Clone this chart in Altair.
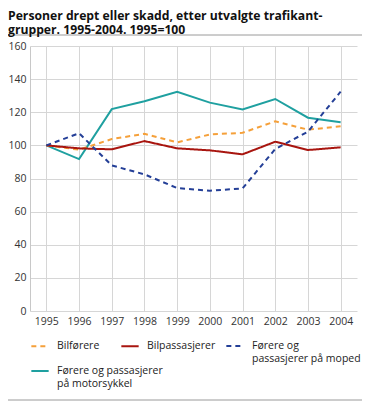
import altair as alt
import pandas as pd

years = ["1995", "1996", "1997", "1998", "1999", "2000", "2001", "2002", "2003", "2004"]
bilforere = [100, 97.4, 103.8, 107.0, 101.8, 106.6, 107.6, 114.5, 109.5, 111.5]
bilpassasjerer = [100, 98.2, 97.6, 102.6, 98.2, 97.0, 94.6, 102.2, 97.2, 98.8]
moped = [100, 107.3, 87.9, 82.5, 74.2, 72.6, 74.0, 97.8, 108.3, 132.4]
motorsykkel = [100, 91.7, 121.9, 126.6, 132.4, 125.8, 121.7, 128.0, 116.7, 113.9]

car_names = ["Bilførere", "Bilpassasjerer"]
car_values = [bilforere, bilpassasjerer]
car_colors = ["#f5a03a", "#a8150f"]
car_dashes = [[5, 4], [1, 0]]

moped_names = ["Førere og passasjerer på moped"]
moped_values = [moped]
moped_colors = ["#243f97"]
moped_dashes = [[5, 4]]

mc_names = ["Førere og passasjerer på motorsykkel"]
mc_values = [motorsykkel]
mc_colors = ["#1fa0a0"]


def long_table(names, values):
    rows = []
    for name, vals in zip(names, values):
        for y, v in zip(years, vals):
            rows.append({"year": y, "value": v, "serie": name})
    return pd.DataFrame(rows)


FONT = "Open Sans"

label_expr = (
    "datum.label == 'Førere og passasjerer på moped' ? ['Førere og', 'passasjerer på moped'] : "
    "datum.label == 'Førere og passasjerer på motorsykkel' ? ['Førere og passasjerer', 'på motorsykkel'] : "
    "datum.label"
)

x_enc = alt.X("year:O", scale=alt.Scale(type="point", padding=0.5),
              axis=alt.Axis(title=None, labelAngle=0, grid=True, ticks=False, domain=False,
                            labelPadding=5))
y_enc = alt.Y("value:Q", scale=alt.Scale(domain=[0, 160]),
              axis=alt.Axis(title=None, values=list(range(0, 161, 20)), grid=True, ticks=False,
                            domain=True, labelPadding=4))


def legend(lx, ly):
    return alt.Legend(title=None, orient="none", legendX=lx, legendY=ly,
                      direction="horizontal", columnPadding=17, symbolType="stroke",
                      symbolStrokeWidth=2, symbolSize=300, labelOffset=7, labelFont=FONT,
                      labelFontSize=10.5, labelColor="#222", labelLimit=0,
                      labelExpr=label_expr)


def series_layer(names, values, colors, dashes, lx, ly):
    enc = dict(
        x=x_enc, y=y_enc,
        color=alt.Color("serie:N", sort=names, scale=alt.Scale(domain=names, range=colors),
                        legend=legend(lx, ly)),
    )
    if dashes is not None:
        enc["strokeDash"] = alt.StrokeDash("serie:N", sort=names,
                                           scale=alt.Scale(domain=names, range=dashes),
                                           legend=None)
    return alt.Chart(long_table(names, values)).mark_line(strokeWidth=2, clip=False).encode(**enc)


mc_layer = series_layer(mc_names, mc_values, mc_colors, None, 0, 315)
car_layer = series_layer(car_names, car_values, car_colors, car_dashes, 0, 290)
moped_layer = series_layer(moped_names, moped_values, moped_colors, moped_dashes, 195, 290)

deco = pd.DataFrame({"k": [0]})
top_rule = alt.Chart(deco).mark_rule(color="#9a9a9a", strokeWidth=1).encode(
    x=alt.value(-22), x2=alt.value(332), y=alt.value(-11)
)
bottom_rule = alt.Chart(deco).mark_rule(color="#9a9a9a", strokeWidth=1).encode(
    x=alt.value(-22), x2=alt.value(332), y=alt.value(354)
)

chart = alt.layer(mc_layer, car_layer, moped_layer, top_rule, bottom_rule).resolve_scale(
    color="independent", strokeDash="independent"
).properties(
    width=327,
    height=265,
    autosize=alt.AutoSizeParams(type="none"),
    padding={"left": 22, "top": 38, "right": 5, "bottom": 90},
    title=alt.TitleParams(
        text=["Personer drept eller skadd, etter utvalgte trafikant-",
              "grupper. 1995-2004. 1995=100"],
        anchor="start", frame="group", dx=-22, dy=5.5,
        font=FONT, fontSize=12.2, fontWeight="bold", color="#111", lineHeight=14,
    ),
).configure_view(stroke=None).configure_axis(
    gridColor="#d6d6d6", domainColor="#c8c8c8", labelFont=FONT, labelFontSize=10.5,
    labelColor="#333"
)

chart.save("out.html", embed_options={"renderer": "svg", "actions": False})
